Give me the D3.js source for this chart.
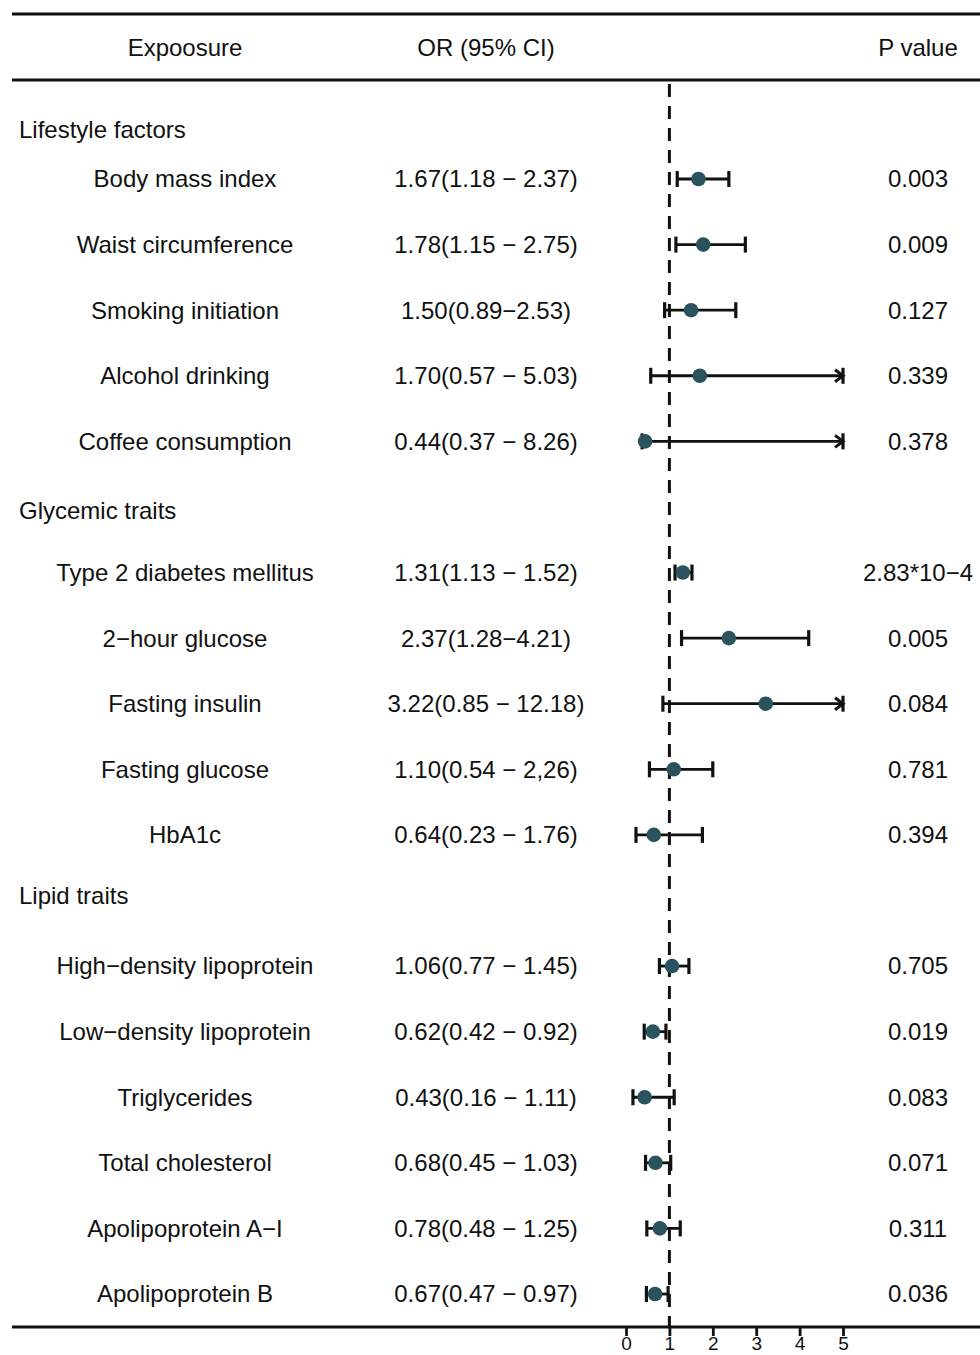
<!DOCTYPE html>
<html>
<head>
<meta charset="utf-8">
<script src="https://cdn.jsdelivr.net/npm/d3@7"></script>
<style>
  html, body { margin: 0; padding: 0; background: #fff; }
  svg text { font-family: "Liberation Sans", Arial, sans-serif; fill: #111; }
</style>
</head>
<body>
<svg id="chart" width="980" height="1355"></svg>
<script>
// ---- data ----
var groups = ["Lifestyle factors", "Glycemic traits", "Lipid traits"];

var exposures = [
	"Body mass index", "Waist circumference", "Smoking initiation", "Alcohol drinking", "Coffee consumption",
	"Type 2 diabetes mellitus", "2\u2212hour glucose", "Fasting insulin", "Fasting glucose", "HbA1c",
	"High\u2212density lipoprotein", "Low\u2212density lipoprotein", "Triglycerides", "Total cholesterol",
	"Apolipoprotein A\u2212I", "Apolipoprotein B"
];
var exposureGroup = [0, 0, 0, 0, 0, 1, 1, 1, 1, 1, 2, 2, 2, 2, 2, 2];

var orText = [
	"1.67(1.18 \u2212 2.37)", "1.78(1.15 \u2212 2.75)", "1.50(0.89\u22122.53)", "1.70(0.57 \u2212 5.03)", "0.44(0.37 \u2212 8.26)",
	"1.31(1.13 \u2212 1.52)", "2.37(1.28\u22124.21)", "3.22(0.85 \u2212 12.18)", "1.10(0.54 \u2212 2,26)", "0.64(0.23 \u2212 1.76)",
	"1.06(0.77 \u2212 1.45)", "0.62(0.42 \u2212 0.92)", "0.43(0.16 \u2212 1.11)", "0.68(0.45 \u2212 1.03)",
	"0.78(0.48 \u2212 1.25)", "0.67(0.47 \u2212 0.97)"
];
var pText = [
	"0.003", "0.009", "0.127", "0.339", "0.378",
	"2.83*10\u22124", "0.005", "0.084", "0.781", "0.394",
	"0.705", "0.019", "0.083", "0.071", "0.311", "0.036"
];

// values as plotted
var orValue = [1.67, 1.78, 1.50, 1.70, 0.44, 1.31, 2.37, 3.22, 1.10, 0.64, 1.06, 0.62, 0.43, 0.68, 0.78, 0.67];
var lower   = [1.18, 1.15, 0.89, 0.57, 0.37, 1.13, 1.28, 0.85, 0.54, 0.23, 0.77, 0.42, 0.16, 0.45, 0.48, 0.47];
var upper   = [2.37, 2.75, 2.53, 5.03, 8.26, 1.52, 4.21, 12.18, 2.00, 1.76, 1.45, 0.92, 1.11, 1.03, 1.25, 0.97];

var xTicks = [0, 1, 2, 3, 4, 5];
var xMax = 5;

// ---- layout ----
var W = 980, H = 1355;
var colExp = 185, colOR = 486, colP = 918;
var lineTop = 14, lineHead = 80, lineBottom = 1327;
var dotColor = "#2a535e";
var fontSize = 24;

var svg = d3.select("#chart");

var x = d3.scaleLinear().domain([0, 5]).range([626, 843]);

// build rows: group headers + exposures
var rows = [];
exposures.forEach(function(name, i) {
	var g = exposureGroup[i];
	if (i === 0 || exposureGroup[i - 1] !== g)
		rows.push({type: "header", text: groups[g], group: g});
	rows.push({type: "item", i: i});
});

var y = d3.scaleLinear().domain([1, rows.length - 1]).range([179, 1294]);
var headerShift = [16, 4, -5];

// rules
[lineTop, lineHead, lineBottom].forEach(function(ly) {
	svg.append("line")
		.attr("x1", 12).attr("x2", W).attr("y1", ly).attr("y2", ly)
		.attr("stroke", "#111").attr("stroke-width", 3);
});

// column titles
var head = svg.append("g").style("font-size", fontSize + "px");
head.append("text").attr("x", colExp).attr("y", 48).attr("dy", "0.35em")
	.attr("text-anchor", "middle").text("Expoosure");
head.append("text").attr("x", colOR).attr("y", 48).attr("dy", "0.35em")
	.attr("text-anchor", "middle").text("OR (95% CI)");
head.append("text").attr("x", colP).attr("y", 48).attr("dy", "0.35em")
	.attr("text-anchor", "middle").text("P value");

// reference line at OR = 1
svg.append("line")
	.attr("x1", x(1)).attr("x2", x(1)).attr("y1", lineHead + 4).attr("y2", lineBottom)
	.attr("stroke", "#111").attr("stroke-width", 3).attr("stroke-dasharray", "13,9");

// text rows
var textg = svg.append("g").style("font-size", fontSize + "px");
rows.forEach(function(r, k) {
	if (r.type === "header") {
		textg.append("text").attr("x", 19).attr("y", y(k) + headerShift[r.group]).attr("dy", "0.35em")
			.text(r.text);
	} else {
		var i = r.i;
		textg.append("text").attr("x", colExp).attr("y", y(k)).attr("dy", "0.35em")
			.attr("text-anchor", "middle").text(exposures[i]);
		textg.append("text").attr("x", colOR).attr("y", y(k)).attr("dy", "0.35em")
			.attr("text-anchor", "middle").text(orText[i]);
		textg.append("text").attr("x", colP).attr("y", y(k)).attr("dy", "0.35em")
			.attr("text-anchor", "middle").text(pText[i]);
	}
});

// error bars
var capH = 8;
var bars = svg.append("g").attr("stroke", "#111").attr("stroke-width", 2.8).attr("fill", "none");
rows.forEach(function(r, k) {
	if (r.type !== "item") return;
	var i = r.i, yy = y(k);
	var clipped = upper[i] > xMax;
	var x0 = x(lower[i]), x1 = x(Math.min(upper[i], xMax));
	bars.append("line").attr("x1", x0).attr("x2", x1).attr("y1", yy).attr("y2", yy);
	bars.append("line").attr("x1", x0).attr("x2", x0).attr("y1", yy - capH).attr("y2", yy + capH)
		.attr("stroke-width", 3.2);
	bars.append("line").attr("x1", x1).attr("x2", x1).attr("y1", yy - capH).attr("y2", yy + capH)
		.attr("stroke-width", 3.2);
	if (clipped) {
		bars.append("path")
			.attr("d", "M" + (x1 - 8) + "," + (yy - 6) + "L" + x1 + "," + yy + "L" + (x1 - 8) + "," + (yy + 6))
			.attr("stroke-width", 3);
	}
});

// points
var pts = svg.append("g");
rows.forEach(function(r, k) {
	if (r.type !== "item") return;
	pts.append("circle").attr("cx", x(orValue[r.i])).attr("cy", y(k)).attr("r", 7.3)
		.attr("fill", dotColor);
});

// x axis
var axis = svg.append("g").attr("transform", "translate(0," + lineBottom + ")")
	.call(d3.axisBottom(x).tickValues(xTicks).tickSize(9).tickPadding(1).tickFormat(d3.format("d")));
axis.select(".domain").remove();
axis.selectAll(".tick line").attr("stroke", "#111").attr("stroke-width", 2.8);
axis.selectAll(".tick text").style("font-size", "19px").style("font-family", "Liberation Sans, Arial, sans-serif")
	.attr("fill", "#111");
</script>
</body>
</html>
